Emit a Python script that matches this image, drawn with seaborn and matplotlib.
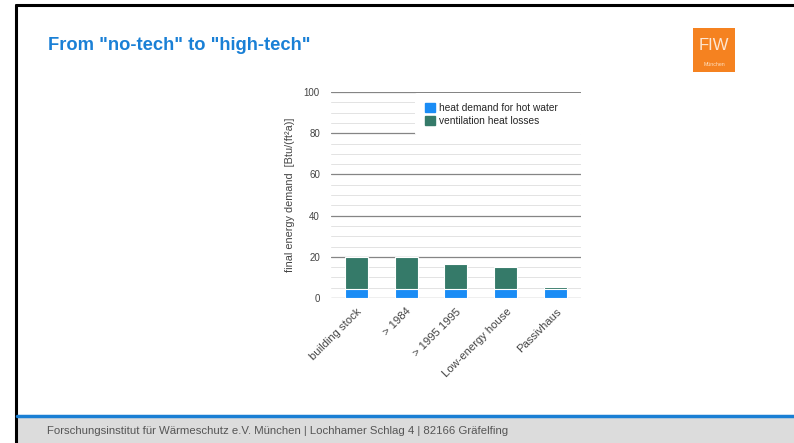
import matplotlib
matplotlib.use("Agg")
import matplotlib.pyplot as plt
import matplotlib.patches as mpatches
from matplotlib.lines import Line2D
import seaborn as sns
import pandas as pd

sns.set_theme(style="white")
plt.rcParams["font.family"] = ["Liberation Sans", "DejaVu Sans"]

# values
categories = ["building stock", "> 1984", "> 1995 1995", "Low-energy house", "Passivhaus"]
hot_water = [4.5, 4.5, 4.5, 4.5, 4.5]
ventilation = [15.5, 15.5, 12.0, 10.5, 1.0]
y_ticks = [0, 20, 40, 60, 80, 100]

df = pd.DataFrame({"category": categories, "hot_water": hot_water, "ventilation": ventilation})
df["total"] = df["hot_water"] + df["ventilation"]

blue = "#1a8cf5"
green = "#357a69"

fig = plt.figure(figsize=(7.94, 4.43), dpi=100)

# slide frame
fig.add_artist(Line2D([16 / 794, 16 / 794], [0, 1 - 5 / 443], color="black", lw=2.2))
fig.add_artist(Line2D([16 / 794, 1], [1 - 5 / 443, 1 - 5 / 443], color="black", lw=2.2))

# footer band
fig.add_artist(mpatches.Rectangle((17 / 794, 0), 1, 26 / 443, transform=fig.transFigure,
                                  color="#dcdcdc", lw=0))
fig.add_artist(Line2D([17 / 794, 1], [27.5 / 443, 27.5 / 443], color="#1a7fd4", lw=2.5))
fig.text(47 / 794, 12 / 443,
         "Forschungsinstitut für Wärmeschutz e.V. München | Lochhamer Schlag 4 | 82166 Gräfelfing",
         fontsize=8.2, color="#555555", va="center", ha="left")

# title
fig.text(48 / 794, 1 - 45 / 443, 'From "no-tech" to "high-tech"', fontsize=13.2,
         fontweight="bold", color="#1a80d6", va="center", ha="left")

# logo
fig.add_artist(mpatches.Rectangle((693 / 794, 1 - 72 / 443), 42 / 794, 44 / 443,
                                  transform=fig.transFigure, color="#f58220", lw=0))
fig.text(714 / 794, 1 - 46 / 443, "FIW", fontsize=12, color="#fde6d2", ha="center", va="center")
fig.text(714 / 794, 1 - 65 / 443, "München", fontsize=3.8, color="#ffe0c0", ha="center", va="center")

# chart
ax = fig.add_axes([331 / 794, (443 - 298) / 443, 250 / 794, 206 / 443])
sns.barplot(data=df, x="category", y="total", color=green, width=0.46,
            edgecolor="white", linewidth=0.8, saturation=1, ax=ax, zorder=3)
sns.barplot(data=df, x="category", y="hot_water", color=blue, width=0.46,
            edgecolor="white", linewidth=0.8, saturation=1, ax=ax, zorder=4)

ax.set_ylim(0, 100)
ax.set_yticks(y_ticks)
ax.set_yticks(range(0, 101, 5), minor=True)
ax.grid(axis="y", which="major", color="#858585", lw=0.9, zorder=0)
ax.grid(axis="y", which="minor", color="#e3e3e3", lw=0.7, zorder=0)
ax.set_axisbelow(True)
for s in ax.spines.values():
    s.set_visible(False)
ax.tick_params(axis="both", which="both", length=0, labelsize=7, labelcolor="#444444")
ax.tick_params(axis="y", pad=8)
ax.tick_params(axis="x", pad=6)
ax.set_xticks(range(len(categories)))
ax.set_xticklabels(categories, rotation=45, ha="right", rotation_mode="anchor", fontsize=8.1)
ax.set_xlabel("")
ax.set_ylabel("final energy demand  [Btu/(ft²a)]", fontsize=7.8, color="#444444", labelpad=6)

handles = [mpatches.Patch(color=blue, label="heat demand for hot water"),
           mpatches.Patch(color=green, label="ventilation heat losses")]
leg = ax.legend(handles=handles, loc="upper left", bbox_to_anchor=(0.336, 0.6, 0.67, 0.393),
                mode="expand", fontsize=7.3,
                frameon=True, framealpha=1, edgecolor="white", handlelength=1.0,
                handleheight=1.0, handletextpad=0.4, labelspacing=0.25, borderpad=0.95,
                borderaxespad=0)
leg.get_frame().set_linewidth(0)

fig.savefig("out.png", dpi=100)
